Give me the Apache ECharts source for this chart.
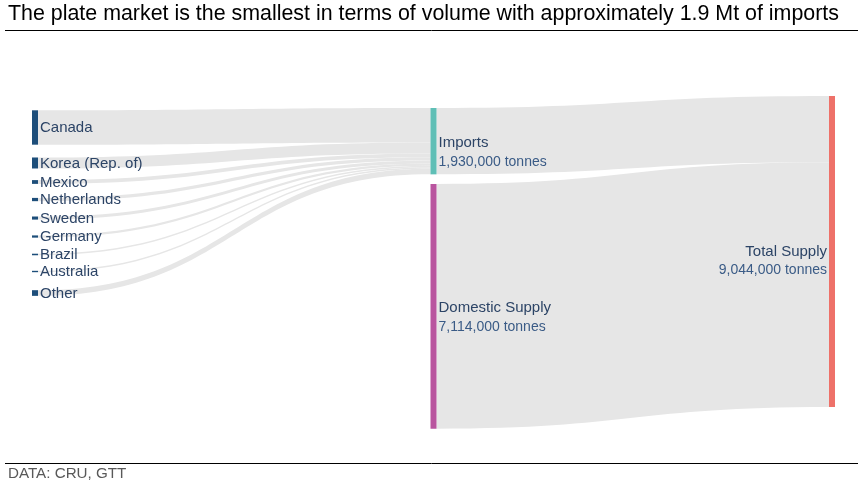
<!DOCTYPE html>
<html>
<head>
<meta charset="utf-8">
<script src="https://cdn.jsdelivr.net/npm/echarts@6/dist/echarts.min.js"></script>
<style>
html,body{margin:0;padding:0;background:#fff;}
#chart{width:858px;height:480px;}
</style>
</head>
<body>
<div id="chart"></div>
<script>
// ---------------- data ----------------
const titleText = 'The plate market is the smallest in terms of volume with approximately 1.9 Mt of imports';
const sourceText = 'DATA: CRU, GTT';
const countries = ['Canada', 'Korea (Rep. of)', 'Mexico', 'Netherlands', 'Sweden', 'Germany', 'Brazil', 'Australia', 'Other'];
const importTonnes = [1000000, 320000, 110000, 95000, 90000, 65000, 45000, 40000, 165000];
const importsNode = 'Imports';
const domesticNode = 'Domestic Supply';
const totalNode = 'Total Supply';
const domesticTonnes = [7114000];
const valueUnit = 'tonnes';

// ---------------- layout (node placement as fraction of sankey box height) ----------------
const countryLocalY = [0.0428, 0.1841, 0.2518, 0.3051, 0.3608, 0.4174, 0.4722, 0.5234, 0.5814];
const stageLocalY = { 'Imports': 0.0359, 'Domestic Supply': 0.2635, 'Total Supply': 0 };

// ---------------- styles ----------------
const countryColor = '#1d4e7a';
const stageColors = { 'Imports': '#5fbfb6', 'Domestic Supply': '#b9559f', 'Total Supply': '#ee7169' };
const fontFamily = '"Liberation Sans", Arial, sans-serif';

const nodes = countries.map((c, i) => ({
  name: c,
  localY: countryLocalY[i],
  itemStyle: { color: countryColor },
  label: { position: 'right', distance: 2, offset: [0, 0.5], formatter: '{n|{b}}' }
}));
[importsNode, domesticNode].forEach(n => nodes.push({
  name: n,
  localY: stageLocalY[n],
  itemStyle: { color: stageColors[n] },
  label: { position: 'right', distance: 2, offset: [0, 11.5] }
}));
nodes.push({
  name: totalNode,
  localY: stageLocalY[totalNode],
  itemStyle: { color: stageColors[totalNode] },
  label: { position: 'left', distance: 2, align: 'right', offset: [0, 9.5] }
});

const links = countries.map((c, i) => ({ source: c, target: importsNode, value: importTonnes[i] }));
const importsTotal = importTonnes.reduce((a, b) => a + b, 0);
links.push({ source: importsNode, target: totalNode, value: importsTotal });
links.push({ source: domesticNode, target: totalNode, value: domesticTonnes[0] });

const chart = echarts.init(document.getElementById('chart'), null, { renderer: 'canvas' });
chart.setOption({
  animation: false,
  backgroundColor: '#fff',
  title: [
    { text: titleText, left: 8, top: 4, padding: 0,
      textStyle: { fontSize: 21.4, fontWeight: 'normal', color: '#000', fontFamily: fontFamily } },
    { text: sourceText, left: 8, top: 466, padding: 0,
      textStyle: { fontSize: 15.2, fontWeight: 'normal', color: '#595959', fontFamily: fontFamily } }
  ],
  graphic: [
    { type: 'line', shape: { x1: 5, y1: 30.5, x2: 858, y2: 30.5 }, style: { stroke: '#000', lineWidth: 1 }, silent: true },
    { type: 'line', shape: { x1: 5, y1: 463.5, x2: 858, y2: 463.5 }, style: { stroke: '#000', lineWidth: 1 }, silent: true }
  ],
  series: [{
    type: 'sankey',
    left: 32, right: 23, top: 96, bottom: 50,
    nodeWidth: 6,
    nodeGap: 23,
    nodeAlign: 'right',
    layoutIterations: 0,
    draggable: false,
    emphasis: { disabled: true },
    data: nodes,
    links: links,
    lineStyle: { color: '#e6e6e6', opacity: 1, curveness: 0.5 },
    itemStyle: { borderWidth: 0 },
    label: {
      fontFamily: fontFamily,
      formatter: function (p) {
        return '{n|' + p.name + '}\n{v|' + p.value.toLocaleString('en-US') + ' ' + valueUnit + '}';
      },
      rich: {
        n: { fontSize: 15, color: '#2c4466', fontFamily: fontFamily, lineHeight: 19 },
        v: { fontSize: 14, color: '#3a5b86', fontFamily: fontFamily, lineHeight: 19 }
      }
    }
  }]
});
</script>
</body>
</html>
